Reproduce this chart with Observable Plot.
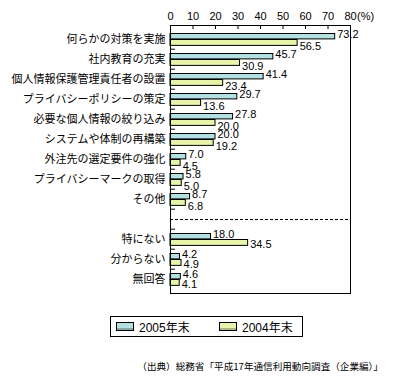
<!DOCTYPE html>
<html><head><meta charset="utf-8">
<script src="https://cdn.jsdelivr.net/npm/d3@7"></script>
<script src="https://cdn.jsdelivr.net/npm/@observablehq/plot@0.6"></script>
<style>
body{margin:0;background:#fff;}
#wrap{position:relative;width:398px;height:385px;background:#fff;font-family:"Noto Sans CJK JP",sans-serif;}
#chart{position:absolute;left:0;top:0;}
#legend{position:absolute;left:110px;top:316px;width:191px;height:19px;border:1px solid #000;background:#fff;}
.item{position:absolute;top:0;height:19px;display:flex;align-items:center;font-family:"Liberation Sans","Noto Sans CJK JP",sans-serif;font-size:12px;color:#000;}
.sw{width:16px;height:7px;border:1px solid #000;margin-right:5px;box-shadow:inset 0 -2px 0 rgba(0,0,0,0.25);}
#caption{position:absolute;right:15px;top:359px;font-size:9.6px;color:#000;white-space:nowrap;}
</style></head><body>
<div id="wrap"><div id="chart"></div><div id="legend"></div><div id="caption"></div></div>
<script>
const categoriesTop = ["何らかの対策を実施","社内教育の充実","個人情報保護管理責任者の設置","プライバシーポリシーの策定","必要な個人情報の絞り込み","システムや体制の再構築","外注先の選定要件の強化","プライバシーマークの取得","その他"];
const categoriesBottom = ["特にない","分からない","無回答"];
const values2005 = [73.2,45.7,41.4,29.7,27.8,20.0,7.0,5.8,8.7,18.0,4.2,4.6];
const values2004 = [56.5,30.9,23.4,13.6,20.0,19.2,4.5,5.0,6.8,34.5,4.9,4.1];
const seriesNames = ["2005年末","2004年末"];
const seriesColors = ["#b3e1e1","#e6f5aa"];
const xTicks = [0,10,20,30,40,50,60,70,80];
const unitLabel = "(%)";
const captionText = "（出典）総務省「平成17年通信利用動向調査（企業編）」";

const gap = " ";
const domain = [...categoriesTop, gap, ...categoriesBottom];
const cats = [...categoriesTop, ...categoriesBottom];
const d05 = cats.map((c,i)=>({cat:c, value:values2005[i], other:values2004[i]}));
const d04 = cats.map((c,i)=>({cat:c, value:values2004[i], other:values2005[i]}));
const pushed = d => d.value + 0.7 < d.other;

const H = 300, MT = 25, MB = 7;
const bw = (H - MT - MB) / domain.length;

const chart = Plot.plot({
  width: 398, height: H, marginTop: MT, marginBottom: MB, marginLeft: 170, marginRight: 48,
  style: {fontFamily: "'Liberation Sans', Arial, sans-serif", fontSize: "12px", background: "#fff", color: "#000"},
  x: {domain: [0, 80], axis: null, label: null},
  y: {domain, padding: 0, axis: null, label: null},
  marks: [
    Plot.ruleY([gap], {stroke: "#000", strokeDasharray: "3,2"}),
    Plot.barX(d05, {x: "value", y: "cat", fill: seriesColors[0], stroke: "#000", strokeWidth: 1, insetTop: 4.5, insetBottom: bw - 10.5}),
    Plot.barX(d04, {x: "value", y: "cat", fill: seriesColors[1], stroke: "#000", strokeWidth: 1, insetTop: 10.5, insetBottom: bw - 17}),
    Plot.text(d05, {x: "value", y: "cat", text: d => d.value.toFixed(1), textAnchor: "start", dx: 2, dy: 5.5 - bw/2, fontSize: 11}),
    Plot.text(d04.filter(d => !pushed(d)), {x: "value", y: "cat", text: d => d.value.toFixed(1), textAnchor: "start", dx: 2, dy: 15 - bw/2, fontSize: 11}),
    Plot.text(d04.filter(pushed), {x: "value", y: "cat", text: d => d.value.toFixed(1), textAnchor: "start", dx: 2, dy: 17 - bw/2, fontSize: 11}),
    Plot.frame({stroke: "#000"}),
    Plot.axisX({anchor: "top", ticks: xTicks, tickSize: -3, tickPadding: 9, fontSize: 11, label: null}),
    Plot.text([80], {x: d => d, frameAnchor: "top", lineAnchor: "bottom", dy: -6, dx: 6.5, text: () => unitLabel, textAnchor: "start", fontSize: 11}),
    Plot.axisY({tickSize: 0, tickPadding: 5, fontSize: 11, fontFamily: "'Noto Sans CJK JP', sans-serif", label: null}),
    Plot.axisY(domain.slice(1), {tickSize: -5, dy: -bw/2, tickFormat: () => "", label: null})
  ]
});
document.getElementById("chart").appendChild(chart);

const legend = document.getElementById("legend");
const itemLeft = [5, 108];
seriesNames.forEach((name, i) => {
  const it = document.createElement("div");
  it.className = "item";
  it.style.left = itemLeft[i] + "px";
  const sw = document.createElement("span");
  sw.className = "sw";
  sw.style.background = seriesColors[i];
  it.appendChild(sw);
  it.appendChild(document.createTextNode(name));
  legend.appendChild(it);
});
document.getElementById("caption").textContent = captionText;
</script>
</body></html>
